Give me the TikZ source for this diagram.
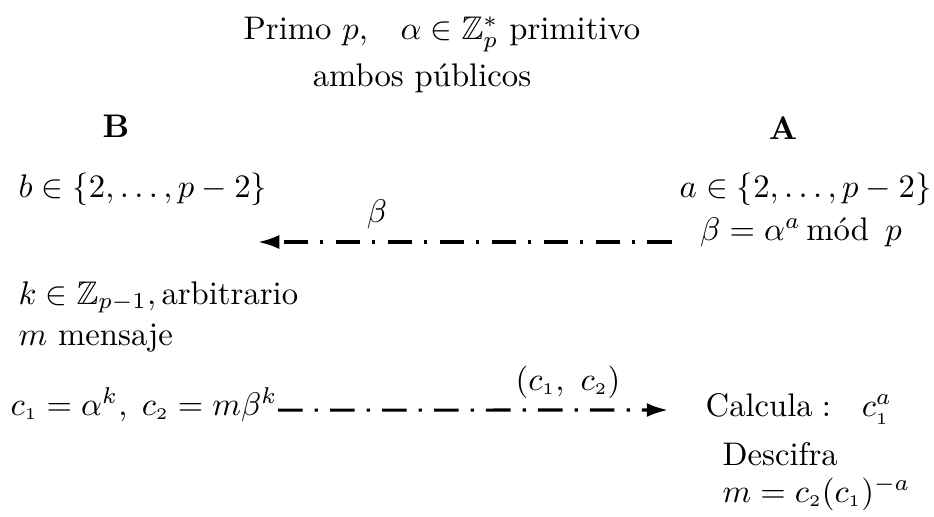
\documentclass[tikz,border=0pt]{standalone}
\usepackage{amsmath,amssymb}
\usetikzlibrary{arrows.meta,positioning}
\tikzset{
  txt/.style={inner sep=0pt},
  msg/.style={line width=0.95pt, dash pattern=on 7.5pt off 3.7pt on 1pt off 3.7pt,
              -{Latex[length=6.5pt,width=4.3pt]}},
}
\newcommand{\ii}[1]{_{\scriptscriptstyle #1}}
\begin{document}
\begin{tikzpicture}[x=1.075cm, y=1.075cm]
        \useasboundingbox (0,0) rectangle (9.34,5.16);
        % cabecera
        \node[txt, anchor=base] (hdr) at (4.42,4.77)
              {Primo $p$,\quad $\alpha\in\mathbb{Z}_p^*$ primitivo};
        \node[txt, anchor=base] (pub) at (4.22,4.30) {ambos p\'ublicos};
        \node[txt, anchor=base, font=\bfseries] (B) at (1.16,3.79) {B};
        \node[txt, anchor=base, font=\bfseries] (A) at (7.83,3.77) {A};
        % claves
        \node[txt, anchor=base west] (bsel) at (0.18,3.19) {$b\in\{2,\ldots,p-2\}$};
        \node[txt, anchor=base east] (asel) at (9.32,3.19) {$a\in\{2,\ldots,p-2\}$};
        \node[txt, anchor=base] (adef) at (8.01,2.76)
              {$\beta=\alpha^a\,\text{m\'od}\ \,p$};
        \coordinate (b0) at (6.72,2.74);
        \coordinate (b1) at (2.58,2.74);
        \draw[msg] (b0) -- (b1);
        \node[txt, anchor=base] (blab) at (3.77,2.94) {$\beta$};
        % cifrado
        \node[txt, anchor=base west] (ksel) at (0.18,2.12)
              {$k\in\mathbb{Z}_{p-1},\text{arbitrario}$};
        \node[txt, anchor=base west] (msg) at (0.18,1.71) {$m$ mensaje};
        \node[txt, anchor=base west] (cenc) at (0.10,1.01)
              {$c\ii1=\alpha^k,\;c\ii2=m\beta^k$};
        \coordinate (c1) at (6.68,1.06);
        \draw[msg] ([yshift=1.5pt]cenc.base east) -- (c1);
        \node[txt, anchor=base] (clab) at (5.68,1.26) {$(c\ii1,\ c\ii2)$};
        % descifrado
        \node[txt, anchor=base west] (calc) at (7.05,1.00)
              {$\text{Calcula}:\ \ c\ii1^a$};
        \node[txt, anchor=base west] (desc) at (7.22,0.51) {Descifra};
        \node[txt, anchor=base west] (mdec) at (7.22,0.14)
              {$m=c\ii2(c\ii1)^{-a}$};
      \end{tikzpicture}
\end{document}
